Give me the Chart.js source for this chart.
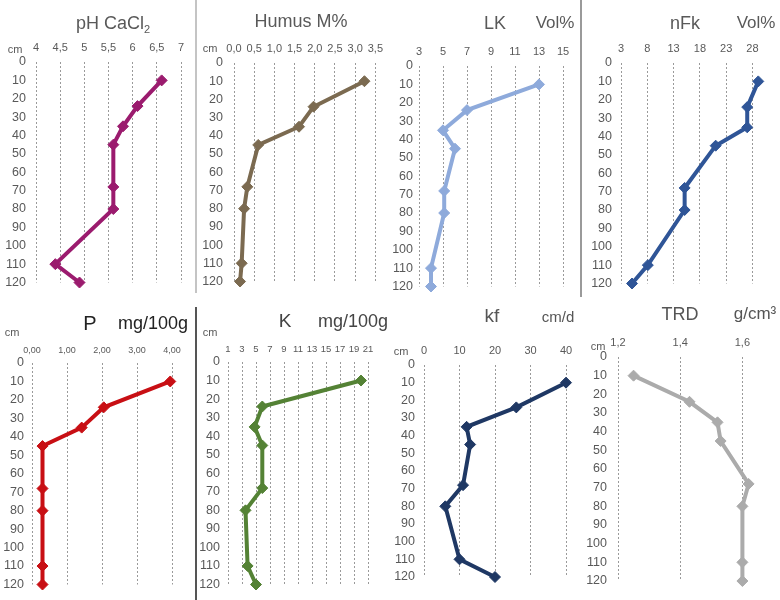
<!doctype html>
<html lang="de">
<head>
<meta charset="UTF-8">
<title>Bodenprofil</title>
<script src="https://cdn.jsdelivr.net/npm/chart.js@4.4.1/dist/chart.umd.min.js"></script>
<style>
	body { margin:0; background:#fff; font-family:"Liberation Sans", Arial, sans-serif; }
	#wrap { position:relative; width:780px; height:600px; overflow:hidden; }
	#wrap canvas { position:absolute; }
	.lbl { position:absolute; transform:translate(-50%,-50%); white-space:nowrap; color:#595959; }
	.sep { position:absolute; width:2px; }
</style>
</head>
<body>
<div id="wrap"></div>
<script>
// Tiefe der Messpunkte (cm), gleich fuer alle Parameter
var depths = [10, 24, 35, 45, 68, 80, 110, 120];
var depthTicks = [0, 10, 20, 30, 40, 50, 60, 70, 80, 90, 100, 110, 120];

var phVals    = [6.6, 6.1, 5.8, 5.6, 5.6, 5.6, 4.4, 4.9];
var phTicks   = [4, 4.5, 5, 5.5, 6, 6.5, 7];
var humusVals = [3.23, 1.97, 1.61, 0.6, 0.33, 0.25, 0.19, 0.15];
var humusTicks= [0, 0.5, 1, 1.5, 2, 2.5, 3, 3.5];
var lkVals    = [13, 7, 5, 6, 5.1, 5.1, 4, 4];
var lkTicks   = [3, 5, 7, 9, 11, 13, 15];
var nfkVals   = [29.1, 27, 27, 21, 15.1, 15.1, 8.1, 5.1];
var nfkTicks  = [3, 8, 13, 18, 23, 28];
var pVals     = [3.95, 2.05, 1.42, 0.3, 0.3, 0.3, 0.3, 0.3];
var pTicks    = [0, 1, 2, 3, 4];
var kVals     = [20, 5.9, 4.8, 5.9, 5.9, 3.5, 3.8, 5];
var kTicks    = [1, 3, 5, 7, 9, 11, 13, 15, 17, 19, 21];
var kfVals    = [40, 26, 12, 13, 11, 6, 10, 20];
var kfTicks   = [0, 10, 20, 30, 40];
var trdVals   = [1.25, 1.43, 1.52, 1.53, 1.62, 1.6, 1.6, 1.6];
var trdTicks  = [1.2, 1.4, 1.6];

var wrap = document.getElementById('wrap');

function fmt(v, dec){
	var s = dec < 0 ? String(v) : v.toFixed(dec);
	return s.replace('.', ',');
}

// box: [left, top, width, height] of canvas, plot: [left, top, right, bottom]
function panel(vals, ticks, min, max, dec, color, box, plot, opt){
	var c = document.createElement('canvas');
	c.width = box[2]; c.height = box[3];
	c.style.left = box[0]+'px'; c.style.top = box[1]+'px';
	wrap.appendChild(c);
	var pts = [];
	for (var i=0;i<depths.length;i++){ pts.push({x: vals[i], y: depths[i]}); }
	new Chart(c.getContext('2d'), {
		type: 'scatter',
		data: { datasets: [{
			data: pts, showLine: true, borderColor: color, backgroundColor: color,
			borderWidth: 4, pointStyle: 'rectRot', pointRadius: 5.5, pointBorderWidth: 1,
			tension: 0, clip: false
		}]},
		options: {
			responsive: false, animation: false,
			layout: { padding: { left: 0, top: 0,
				right: box[0]+box[2]-plot[2], bottom: box[1]+box[3]-plot[3] } },
			plugins: { legend: {display:false}, tooltip: {enabled:false} },
			scales: {
				x: {
					type: 'linear', position: 'top', min: min, max: max,
					afterBuildTicks: function(s){ s.ticks = ticks.map(function(v){ return {value:v}; }); },
					afterFit: function(s){ s.height = plot[1]-box[1]; },
					grid: { color: '#9a9a9a', lineWidth: 1, drawTicks: false },
					border: { display: false, dash: [2, 2] },
					ticks: { color: '#595959', padding: opt.xpad || 7, maxRotation: 0, autoSkip: false,
						font: { family: 'Liberation Sans', size: opt.xfs || 11 },
						callback: function(v){ return fmt(v, dec); } }
				},
				y: {
					type: 'linear', reverse: true, min: 0, max: 120,
					afterBuildTicks: function(s){ s.ticks = depthTicks.map(function(v){ return {value:v}; }); },
					afterFit: function(s){ s.width = plot[0]-box[0]; },
					grid: { display: false, drawTicks: false },
					border: { display: false },
					ticks: { color: '#595959', padding: opt.ypad, autoSkip: false,
						font: { family: 'Liberation Sans', size: 12.5 } }
				}
			}
		}
	});
}

function label(txt, x, y, size, color){
	var d = document.createElement('div');
	d.className = 'lbl';
	d.innerHTML = txt;
	d.style.left = x+'px'; d.style.top = y+'px';
	d.style.fontSize = size+'px';
	if (color) d.style.color = color;
	wrap.appendChild(d);
}

function sep(x, y1, y2, color){
	var d = document.createElement('div');
	d.className = 'sep';
	d.style.left = x+'px'; d.style.top = y1+'px';
	d.style.height = (y2-y1)+'px';
	d.style.background = color;
	wrap.appendChild(d);
}

// obere Reihe
panel(phVals, phTicks, 4, 7, -1, '#9b1b6e', [0,0,195,300], [36,62,181,287], {ypad:10});
panel(humusVals, humusTicks, 0, 3.5, 1, '#7b6a50', [195,0,195,300], [234,63,376,287], {ypad:11});
panel(lkVals, lkTicks, 3, 15, 0, '#8eaadb', [390,0,190,300], [419,66,563,288], {ypad:6});
panel(nfkVals, nfkTicks, 3, 30, 0, '#2f5597', [580,0,200,300], [621,63,763,287], {ypad:9});
// untere Reihe
panel(pVals, pTicks, 0, 4, 2, '#c80f14', [0,300,195,300], [32,363,172,588], {ypad:8, xfs:9});
panel(kVals, kTicks, 1, 21, 0, '#548235', [195,300,195,300], [228,362,368,589], {ypad:8, xfs:9.5});
panel(kfVals, kfTicks, 0, 40, 0, '#1f3864', [390,300,190,300], [424,365,566,577], {ypad:9});
panel(trdVals, trdTicks, 1.2, 1.7, 1, '#ababab', [580,300,200,300], [618,357,774,581], {ypad:11});

label('pH CaCl<sub style="font-size:11px">2</sub>', 113, 24, 18);
label('Humus M%', 301, 21, 18);
label('LK', 495, 23, 18);
label('Vol%', 555, 23, 17);
label('nFk', 685, 23, 18);
label('Vol%', 756, 23, 17);
label('P', 90, 323, 20, '#222');
label('mg/100g', 153, 323, 18, '#222');
label('K', 285, 321, 19, '#444');
label('mg/100g', 353, 321, 18, '#444');
label('kf', 492, 316, 19, '#555');
label('cm/d', 558, 316, 15, '#555');
label('TRD', 680, 314, 18, '#555');
label('g/cm³', 755, 314, 17, '#555');

label('cm', 15, 49, 11);
label('cm', 210, 48, 11);
label('cm', 12, 332, 11);
label('cm', 210, 332, 11);
label('cm', 401, 351, 11);
label('cm', 598, 346, 11);

sep(195, 0, 293, '#c4c4c4');
sep(580, 0, 297, '#9a9a9a');
sep(195, 307, 600, '#555');
</script>
</body>
</html>
